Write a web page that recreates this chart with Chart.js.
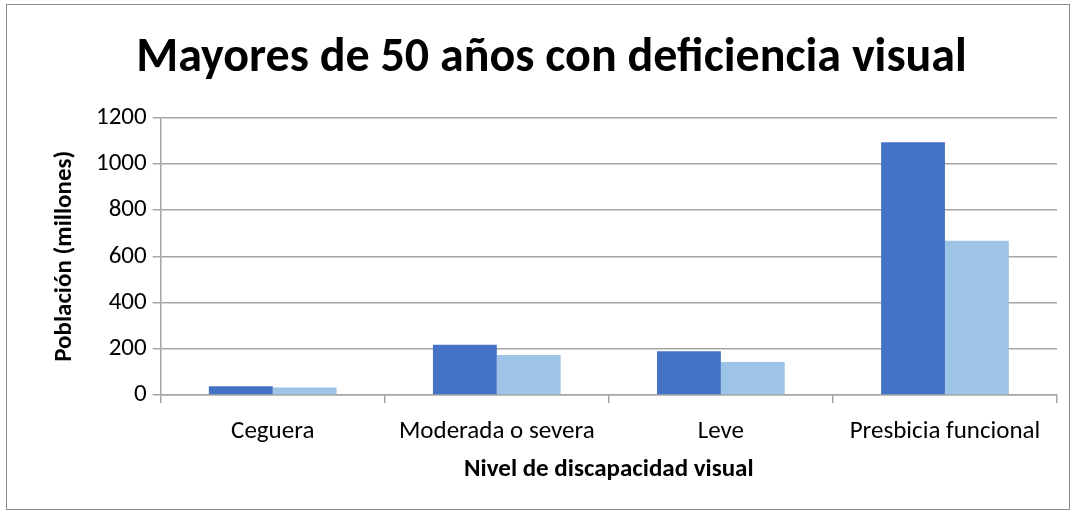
<!DOCTYPE html>
<html>
<head>
<meta charset="utf-8">
<script src="https://cdn.jsdelivr.net/npm/chart.js@4"></script>
<style>
  html, body { margin: 0; padding: 0; background: #fff; }
  #wrap { width: 1075px; height: 512px; position: relative; }
</style>
</head>
<body>
<div id="wrap"><canvas id="chart" width="1075" height="512"></canvas></div>
<script>
// Categorías y valores (millones de personas)
const categories = ['Ceguera', 'Moderada o severa', 'Leve', 'Presbicia funcional'];
const seriesDark = [38, 217, 189, 1093];
const seriesLight = [32, 173, 143, 667];
const yTicks = [0, 200, 400, 600, 800, 1000, 1200];

const FONT = 'Carlito, Lato, "Open Sans", sans-serif';

// Marco gris alrededor del gráfico
const framePlugin = {
    id: 'frame',
    beforeDraw(chart) {
        const ctx = chart.ctx;
        ctx.save();
        ctx.fillStyle = '#fff';
        ctx.fillRect(0, 0, chart.width, chart.height);
        ctx.strokeStyle = '#8c8c8c';
        ctx.lineWidth = 1;
        ctx.strokeRect(6.5, 4.5, 1063, 505);
        ctx.restore();
    }
};

new Chart(document.getElementById('chart'), {
    type: 'bar',
    data: {
        labels: categories,
        datasets: [
            { data: seriesDark, backgroundColor: '#4472c4', borderWidth: 0 },
            { data: seriesLight, backgroundColor: '#9dc3e6', borderWidth: 0 }
        ]
    },
    options: {
        responsive: false,
        animation: false,
        layout: { padding: { left: 46, right: 18, top: 18, bottom: 23 } },
        datasets: { bar: { categoryPercentage: 0.57, barPercentage: 1 } },
        plugins: {
            legend: { display: false },
            tooltip: { enabled: false },
            title: {
                display: true,
                text: 'Mayores de 50 años con deficiencia visual',
                color: '#000',
                font: { family: FONT, size: 48, weight: 'bold' },
                padding: { top: 12, bottom: 30 }
            }
        },
        scales: {
            x: {
                grid: { drawOnChartArea: false, drawTicks: true, tickLength: 8, color: '#a6a6a6', lineWidth: 1.5, offset: true },
                border: { color: '#a6a6a6', width: 1.5 },
                ticks: { color: '#000', font: { family: FONT, size: 25 }, padding: 14 },
                title: {
                    display: true,
                    text: 'Nivel de discapacidad visual',
                    color: '#000',
                    font: { family: FONT, size: 25, weight: 'bold' },
                    padding: { top: -6 }
                }
            },
            y: {
                min: 0,
                max: 1200,
                afterBuildTicks(axis) { axis.ticks = yTicks.map(v => ({ value: v })); },
                grid: { color: '#a6a6a6', lineWidth: 1.5, tickLength: 8 },
                border: { color: '#a6a6a6', width: 1.5 },
                ticks: { color: '#000', font: { family: FONT, size: 25 }, padding: 6, callback: v => String(v) },
                title: {
                    display: true,
                    text: 'Población (millones)',
                    color: '#000',
                    font: { family: FONT, size: 25, weight: 'bold' },
                    padding: { bottom: 10 }
                }
            }
        }
    },
    plugins: [framePlugin]
});
</script>
</body>
</html>
